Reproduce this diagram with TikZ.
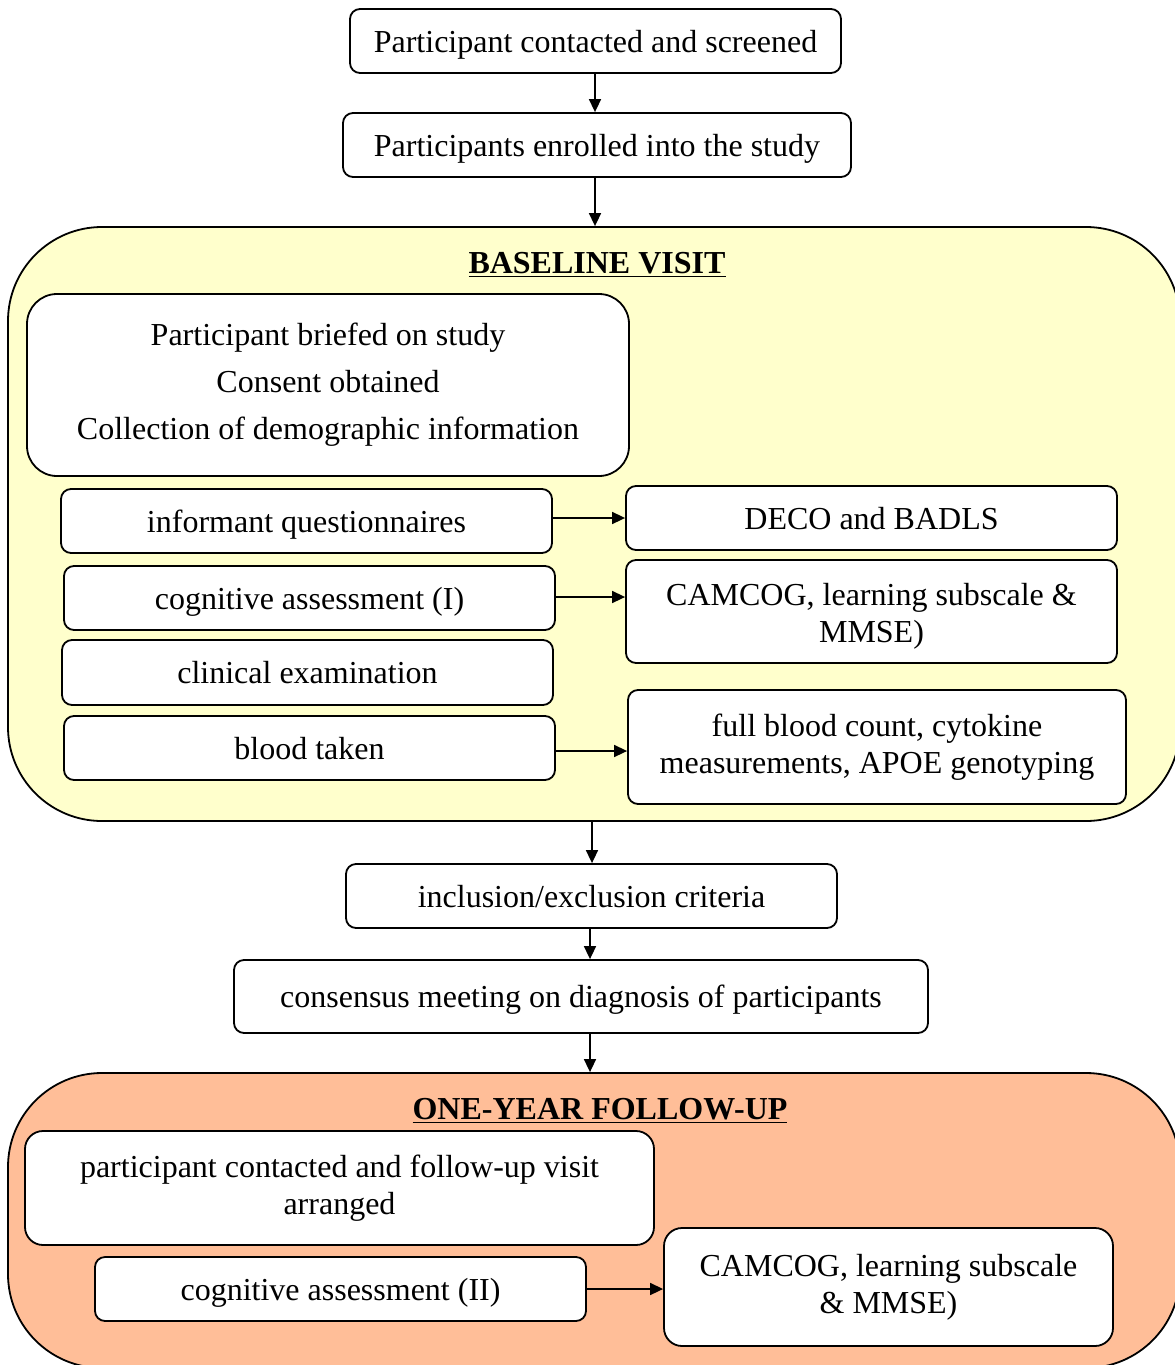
\documentclass[tikz,border=0pt]{standalone}
\usepackage{fontspec}
\setmainfont{Liberation Serif}
\usetikzlibrary{calc, arrows.meta, positioning}
\definecolor{baseyellow}{HTML}{FFFFCC}
\definecolor{fupsalmon}{HTML}{FFBE98}

\begin{document}
\begin{tikzpicture}[x=0.5pt, y=-0.5pt, font=\fontsize{16}{18.5}\selectfont,
    box/.style={draw, line width=0.9pt, fill=white, rounded corners=5pt, align=center, inner sep=2pt},
    oneline/.style={text height=12.5pt, text depth=1.5pt},
    frame/.style={draw, line width=0.9pt, rounded corners=47pt, inner sep=0pt},
    arr/.style={-{Triangle[length=6.5pt, width=6pt]}, line width=0.8pt}]
    \useasboundingbox (0,0) rectangle (1174,1365);
    % Screening
    \node[box, oneline, minimum width=245.5pt, minimum height=32pt] (contact) at (595.5,41) {Participant contacted and screened};
    \node[box, oneline, minimum width=254pt, minimum height=32pt] (enrol) at (597,145) {Participants enrolled into the study};
    % Baseline visit
    \node[frame, fill=baseyellow, minimum width=586pt, minimum height=297pt] (base) at (594,524) {};
    \node[oneline] (basetitle) at (597,262) {\underline{\textbf{BASELINE VISIT}}};
    \node[box, rounded corners=15pt, minimum width=301pt, minimum height=91pt, font=\fontsize{16}{23.5}\selectfont]
      (brief) at (328,385) {Participant briefed on study\\Consent obtained\\Collection of demographic information};
    \node[box, oneline, minimum width=245.5pt, minimum height=32pt] (inform) at (306.5,521) {informant questionnaires};
    \node[box, oneline, minimum width=245.5pt, minimum height=32pt] (deco) at (871.5,518) {DECO and BADLS};
    \node[box, oneline, minimum width=245.5pt, minimum height=32pt] (cogone) at (309.5,598) {cognitive assessment (I)};
    \node[box, minimum width=245.5pt, minimum height=51.5pt] (camone) at (871.5,611.5) {\rule{0pt}{15.8pt}CAMCOG, learning subscale \&\\MMSE)};
    \node[box, oneline, minimum width=245.5pt, minimum height=32.5pt] (clinic) at (307.5,672.5) {clinical examination};
    \node[box, oneline, minimum width=245.5pt, minimum height=32pt] (blood) at (309.5,748) {blood taken};
    \node[box, minimum width=249pt, minimum height=57pt] (fbc) at (877,747) {full blood count, cytokine\\measurements, APOE genotyping};
    \draw[arr] (inform.east |- deco.west) -- (deco.west);
    \draw[arr] (cogone.east |- 0,597) -- (camone.west |- 0,597);
    \draw[arr] (blood.east |- 0,751) -- (fbc.west |- 0,751);
    % Diagnosis
    \node[box, oneline, minimum width=245.5pt, minimum height=32pt] (incl) at (591.5,896) {inclusion/exclusion criteria};
    \node[box, oneline, minimum width=347pt, minimum height=36.5pt] (consens) at (581,996.5) {consensus meeting on diagnosis of participants};
    % One-year follow-up
    \node[frame, fill=fupsalmon, minimum width=586pt, minimum height=147.5pt] (fup) at (594,1220.5) {};
    \node[oneline] (fuptitle) at (600,1108) {\underline{\textbf{ONE-YEAR FOLLOW-UP}}};
    \node[box, rounded corners=9pt, minimum width=314.5pt, minimum height=57pt] (arrange) at (339.5,1188) {participant contacted and follow-up visit\\arranged};
    \node[box, oneline, minimum width=245.5pt, minimum height=32pt] (cogtwo) at (340.5,1289) {cognitive assessment (II)};
    \node[box, rounded corners=9pt, minimum width=224.5pt, minimum height=59pt] (camtwo) at (888.5,1287) {CAMCOG, learning subscale\\\& MMSE)};
    \draw[arr] (cogtwo.east |- 0,1289) -- (camtwo.west |- 0,1289);
    % Main flow
    \draw[arr] (contact.south -| 595,0) -- (enrol.north -| 595,0);
    \draw[arr] (enrol.south -| 595,0) -- (base.north -| 595,0);
    \draw[arr] (base.south -| 592,0) -- (incl.north -| 592,0);
    \draw[arr] (incl.south -| 590,0) -- (consens.north -| 590,0);
    \draw[arr] (consens.south -| 590,0) -- (fup.north -| 590,0);
\end{tikzpicture}
\end{document}
